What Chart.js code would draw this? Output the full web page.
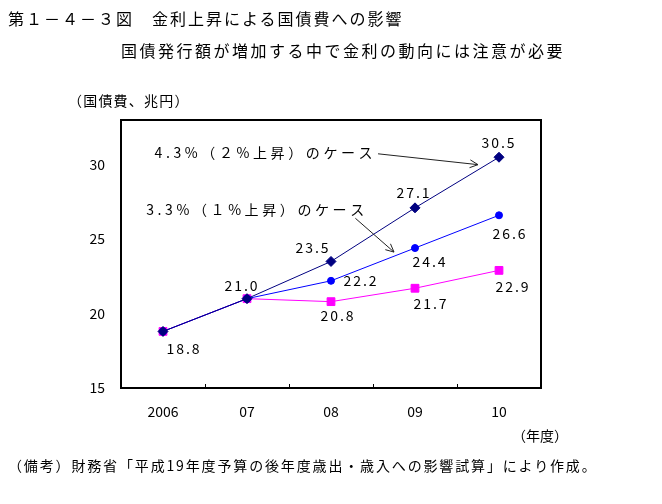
<!DOCTYPE html>
<html>
<head>
<meta charset="utf-8">
<script src="https://cdn.jsdelivr.net/npm/chart.js@4"></script>
<style>
  body { margin: 0; background: #fff; width: 662px; height: 504px; position: relative; overflow: hidden;
         font-family: "Noto Sans CJK JP", sans-serif; color: #000; }
  canvas { position: absolute; left: 0; top: 0; }
  .t { position: absolute; white-space: nowrap; line-height: 1; }
</style>
</head>
<body>
<canvas id="chart" width="662" height="504"></canvas>
<div class="t" style="left:8px;top:10px;font-size:16px;letter-spacing:2px">第１－４－３図　金利上昇による国債費への影響</div>
<div class="t" style="left:121px;top:42px;font-size:16px;letter-spacing:2.5px">国債発行額が増加する中で金利の動向には注意が必要</div>
<div class="t" style="left:68px;top:93px;font-size:14px;letter-spacing:1.2px">（国債費、兆円）</div>
<div class="t" style="left:512px;top:428px;font-size:14px">（年度）</div>
<div class="t" style="left:8px;top:458px;font-size:14px;letter-spacing:1.85px">（備考）財務省「平成19年度予算の後年度歳出・歳入への影響試算」により作成。</div>
<script>
// data
const years = ["2006", "07", "08", "09", "10"];
const case43 = [18.8, 21.0, 23.5, 27.1, 30.5]; // 4.3% (2% up)
const case33 = [18.8, 21.0, 22.2, 24.4, 26.6]; // 3.3% (1% up)
const baseCase = [18.8, 21.0, 20.8, 21.7, 22.9];
const yMin = 15, yMax = 33, yStep = 5;

// where each value label sits relative to its point (px), null = no label
const labelOffsets = [
  [[20, 17], [-6, -13], [-19, -14], [-2, -15], [-1, -15]],
  [null, null, [29, 0], [14, 14], [10, 18]],
  [null, null, [6, 14], [15, 15], [13, 16]],
];

// callouts, in (category index, value) space
const notes = [
  { text: "4.3%（２%上昇）のケース", at: [-0.1, 30.8], from: [2.56, 30.73], to: [3.75, 30.0] },
  { text: "3.3%（１%上昇）のケース", at: [-0.2, 27.0], from: [2.29, 26.4], to: [2.75, 24.13] },
];

const numFont = '14px "Noto Sans CJK JP", sans-serif';

const decorations = {
  id: "decorations",
  afterDatasetsDraw(chart) {
    const { ctx, chartArea: a } = chart;
    const x = chart.scales.x, y = chart.scales.y;
    ctx.save();

    // frame
    ctx.strokeStyle = "#000";
    ctx.lineWidth = 2;
    ctx.strokeRect(a.left, a.top, a.right - a.left, a.bottom - a.top);

    // inward tick marks between categories
    ctx.lineWidth = 1;
    ctx.beginPath();
    for (let i = 1; i < years.length; i++) {
      const px = Math.round((x.getPixelForValue(i - 1) + x.getPixelForValue(i)) / 2) + 0.5;
      ctx.moveTo(px, a.bottom);
      ctx.lineTo(px, a.bottom - 4);
    }
    ctx.stroke();

    // value labels
    ctx.fillStyle = "#000";
    ctx.font = numFont;
    ctx.letterSpacing = "2px";
    ctx.textAlign = "center";
    ctx.textBaseline = "middle";
    chart.data.datasets.forEach((ds, di) => {
      ds.data.forEach((v, i) => {
        const off = labelOffsets[di][i];
        if (!off) return;
        ctx.fillText(v.toFixed(1), x.getPixelForValue(i) + off[0] + 1, y.getPixelForValue(v) + off[1]);
      });
    });

    // callouts
    ctx.textAlign = "left";
    ctx.letterSpacing = "3.6px";
    ctx.strokeStyle = "#222";
    notes.forEach((n) => {
      ctx.fillText(n.text, x.getPixelForValue(n.at[0]), y.getPixelForValue(n.at[1]));
      const x1 = x.getPixelForValue(n.from[0]), y1 = y.getPixelForValue(n.from[1]);
      const x2 = x.getPixelForValue(n.to[0]), y2 = y.getPixelForValue(n.to[1]);
      const ang = Math.atan2(y2 - y1, x2 - x1);
      ctx.beginPath();
      ctx.moveTo(x1, y1);
      ctx.lineTo(x2, y2);
      ctx.moveTo(x2 - 9 * Math.cos(ang - 0.45), y2 - 9 * Math.sin(ang - 0.45));
      ctx.lineTo(x2, y2);
      ctx.lineTo(x2 - 9 * Math.cos(ang + 0.45), y2 - 9 * Math.sin(ang + 0.45));
      ctx.stroke();
    });
    ctx.restore();
  },
};

new Chart(document.getElementById("chart"), {
  type: "line",
  data: {
    labels: years,
    datasets: [
      {
        data: case43,
        borderColor: "#000080",
        backgroundColor: "#000080",
        borderWidth: 1,
        pointStyle: "rectRot",
        pointRadius: 5,
        order: 1,
      },
      {
        data: case33,
        borderColor: "#0000FF",
        backgroundColor: "#0000FF",
        borderWidth: 1,
        pointStyle: "circle",
        pointRadius: 3.5,
        order: 2,
      },
      {
        data: baseCase,
        borderColor: "#FF00FF",
        backgroundColor: "#FF00FF",
        borderWidth: 1,
        pointStyle: "rect",
        pointRadius: 5.5,
        order: 3,
      },
    ],
  },
  options: {
    responsive: false,
    animation: false,
    events: [],
    layout: { padding: { left: 0, right: 121, top: 120, bottom: 76 } },
    plugins: { legend: { display: false }, tooltip: { enabled: false } },
    scales: {
      x: {
        offset: true,
        grid: { display: false, drawTicks: false },
        border: { display: false },
        ticks: { color: "#000", font: { size: 14, family: "Noto Sans CJK JP" }, padding: 15, maxRotation: 0 },
        afterFit: (s) => { s.height = 40; },
      },
      y: {
        min: yMin,
        max: yMax,
        grid: { display: false, drawTicks: false },
        border: { display: false },
        ticks: { stepSize: yStep, includeBounds: false, color: "#000", font: { size: 14, family: "Noto Sans CJK JP" }, padding: 16 },
        afterFit: (s) => { s.width = 121; },
      },
    },
  },
  plugins: [decorations],
});
</script>
</body>
</html>
